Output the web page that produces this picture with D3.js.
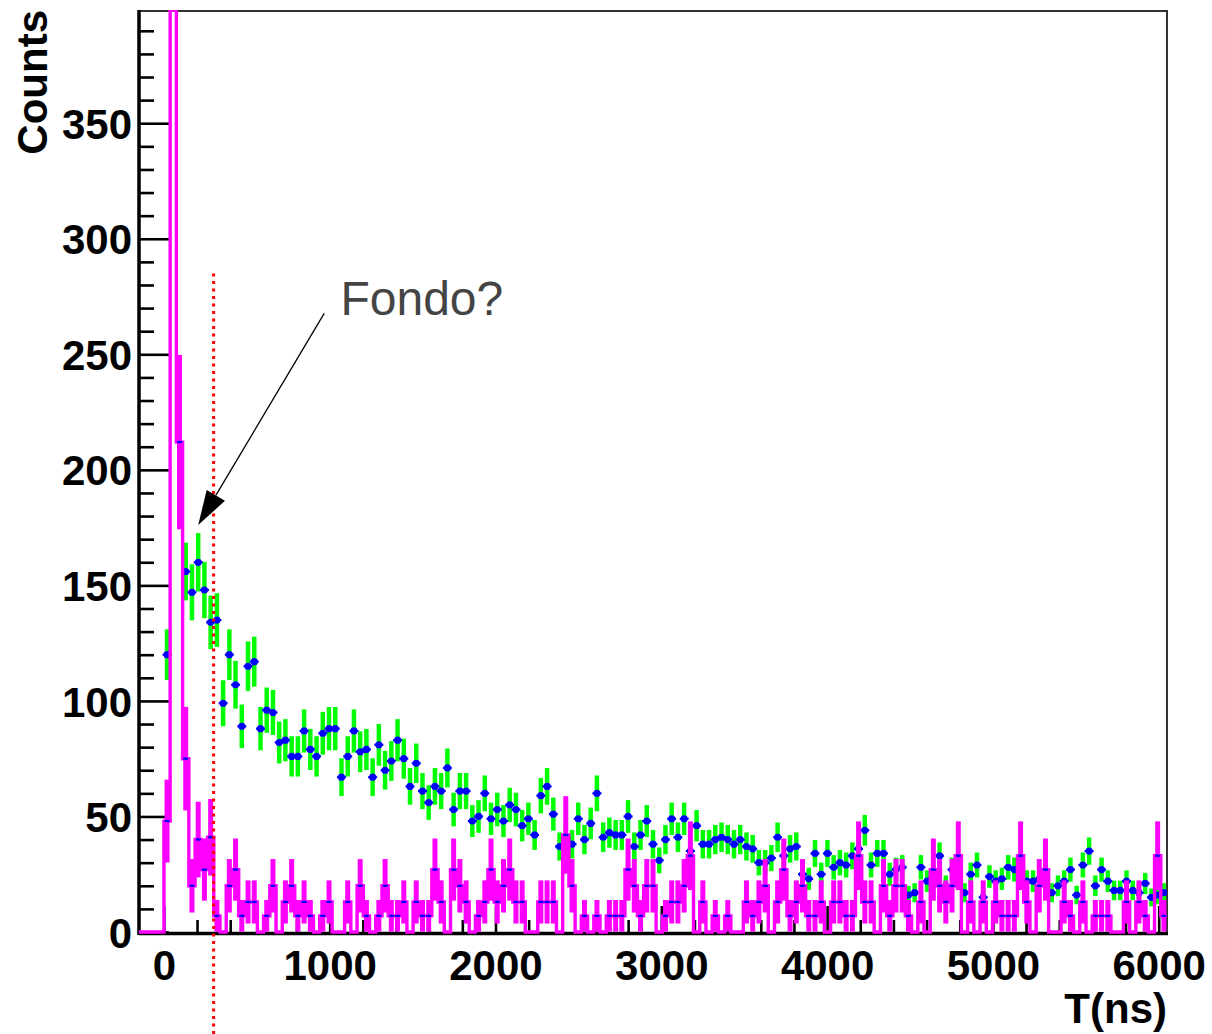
<!DOCTYPE html>
<html><head><meta charset="utf-8">
<script src="https://cdn.jsdelivr.net/npm/d3@7"></script>
<style>html,body{margin:0;padding:0;background:#fff}svg{display:block}</style>
</head><body>
<script>
// ---------------- data ----------------
const xMin = -150, xMax = 6050, nBins = 165;
const yMax = 399;
const xTicks = [0, 1000, 2000, 3000, 4000, 5000, 6000];
const yTicks = [0, 50, 100, 150, 200, 250, 300, 350];
const xTitle = "T(ns)";
const yTitle = "Counts";

// green/blue points: counts per bin, first entry is bin 4 (null = not visible)
const greenStart = 4;
const greenCounts = [
  120, null, null, 156, 147, 160, 148, 134, 135, 99,
  120, 107, 89, 115, 117, 88, 96, 95, 82, 83,
  76, 76, 87, 79, 76, 86, 88, 88, 67, 76,
  87, 78, 79, 67, 81, 70, 74, 83, 75, 63,
  73, 61, 56, 63, 61, 71, 53, 61, 61, 48,
  50, 60, 49, 53, 48, 55, 53, 46, 49, 42,
  59, 63, 51, 37, 40, 38, 49, 40, 47, 60,
  41, 43, 42, 42, 50, 37, 42, 48, 38, 31,
  40, 49, 41, 49, 35, 46, 38, 38, 40, 41,
  40, 38, 40, 37, 36, 30, 30, 32, 41, 33,
  36, 37, 25, 23, 34, 25, 34, 28, 30, 29,
  33, 36, 44, 29, 34, 34, 25, 27, 28, 16,
  17, 28, 22, 24, 33, 20, 27, 25, 17, 25,
  29, 15, 24, 22, 23, 28, 27, 27, 22, 22,
  23, 24, 17, 20, 22, 27, 16, 29, 35, 20,
  27, 22, 18, 18, 22, 18, 17, 21, 15, 16,
  17
];

// magenta histogram: weighted content per bin (bins 0..164)
const magentaWeight = 6.7;
const magentaValues = [
  0, 0, 0, 0, 48, 520, 212, 75, 20, 40,
  27, 41, 7, 0, 20, 27, 7, 13, 13, 0,
  7, 20, 0, 13, 20, 7, 13, 7, 0, 7,
  13, 0, 0, 13, 0, 20, 7, 0, 7, 20,
  7, 7, 13, 0, 13, 7, 7, 27, 13, 0,
  27, 20, 13, 0, 7, 13, 27, 13, 20, 27,
  13, 13, 0, 0, 13, 13, 13, 0, 42, 20,
  0, 7, 0, 7, 0, 7, 7, 7, 27, 20,
  7, 20, 20, 0, 7, 13, 13, 20, 33, 0,
  13, 0, 7, 0, 7, 0, 0, 13, 7, 13,
  20, 0, 13, 27, 7, 13, 20, 7, 7, 13,
  0, 13, 13, 7, 7, 33, 13, 13, 0, 20,
  7, 20, 20, 7, 0, 13, 0, 27, 20, 13,
  20, 33, 0, 13, 0, 13, 0, 13, 7, 7,
  7, 33, 13, 0, 20, 27, 0, 0, 13, 7,
  0, 13, 0, 7, 7, 7, 0, 0, 13, 0,
  13, 7, 0, 33, 7
];

// annotations (data coordinates)
const cutT = 300, cutFrom = 285, cutTo = -45;
const noteText = "Fondo?";
const notePos = [1065, 267];
const arrowFrom = [967, 267.7];
const arrowTo = [207, 176.1];

// ---------------- drawing ----------------
const W = 1212, H = 1034;
const L = 139, R = 1167, T = 10, B = 932;
const FONT = "'Liberation Sans', Arial, Helvetica, sans-serif";
const binWidth = (xMax - xMin) / nBins;
const binLow = k => xMin + k * binWidth;
const binCenter = k => xMin + (k + 0.5) * binWidth;

const x = d3.scaleLinear().domain([xMin, xMax]).range([L, R]);
const y = d3.scaleLinear().domain([0, yMax]).range([B, T]);

const svg = d3.select("body").append("svg").attr("width", W).attr("height", H);
svg.append("rect").attr("width", W).attr("height", H).attr("fill", "#fff");
svg.append("defs").append("clipPath").attr("id", "clip")
  .append("rect").attr("x", L).attr("y", T).attr("width", R - L).attr("height", B - T + 2);

// frame
svg.append("rect").attr("x", L).attr("y", T + 1).attr("width", R - L).attr("height", B - T)
  .attr("fill", "none").attr("stroke", "#333").attr("stroke-width", 2);

// axes lines
svg.append("line").attr("x1", L).attr("x2", L).attr("y1", T).attr("y2", B + 3)
  .attr("stroke", "#000").attr("stroke-width", 3.5);
svg.append("line").attr("x1", L).attr("x2", R + 1).attr("y1", B + 1.5).attr("y2", B + 1.5)
  .attr("stroke", "#000").attr("stroke-width", 3.5);

// y axis (ticks inside)
const yMinor = d3.range(10, yMax, 10).filter(v => v % 50 !== 0);
const yMinorAxis = svg.append("g").attr("transform", `translate(${L},0)`)
  .call(d3.axisLeft(y).tickValues(yMinor).tickSize(-15).tickSizeOuter(0).tickFormat(""));
const yAxis = svg.append("g").attr("transform", `translate(${L},0)`)
  .call(d3.axisLeft(y).tickValues(yTicks).tickSize(-30).tickSizeOuter(0).tickPadding(7)
    .tickFormat(d3.format("d")));
[yMinorAxis, yAxis].forEach(g => {
  g.select(".domain").remove();
  g.selectAll("line").attr("stroke", "#000").attr("stroke-width", 2.6);
});
yAxis.selectAll("text").attr("font-family", FONT).attr("font-weight", "bold")
  .attr("font-size", 42).attr("fill", "#000").attr("dy", "0.36em");

// x axis (ticks inside)
const xMinor = d3.range(200, xMax, 200).filter(v => v % 1000 !== 0);
const xMinorAxis = svg.append("g").attr("transform", `translate(0,${B + 1})`)
  .call(d3.axisBottom(x).tickValues(xMinor).tickSize(-13).tickSizeOuter(0).tickFormat(""));
const xAxis = svg.append("g").attr("transform", `translate(0,${B + 1})`)
  .call(d3.axisBottom(x).tickValues(xTicks).tickSize(-27).tickSizeOuter(0).tickPadding(17)
    .tickFormat(d3.format("d")));
[xMinorAxis, xAxis].forEach(g => {
  g.select(".domain").remove();
  g.selectAll("line").attr("stroke", "#000").attr("stroke-width", 2.6);
});
xAxis.selectAll("text").attr("font-family", FONT).attr("font-weight", "bold")
  .attr("font-size", 42).attr("fill", "#000");

const plot = svg.append("g").attr("clip-path", "url(#clip)");

// green error bars + blue markers
const greenData = greenCounts.map((v, i) => ({k: i + greenStart, v}))
  .filter(d => d.v !== null);
plot.append("g").selectAll("line").data(greenData).join("line")
  .attr("x1", d => x(binCenter(d.k))).attr("x2", d => x(binCenter(d.k)))
  .attr("y1", d => y(d.v - Math.sqrt(d.v))).attr("y2", d => y(d.v + Math.sqrt(d.v)))
  .attr("stroke", "#00ff00").attr("stroke-width", 4.5);
const gm = plot.append("g");
gm.selectAll("line").data(greenData).join("line")
  .attr("x1", d => x(binCenter(d.k)) - 4.5).attr("x2", d => x(binCenter(d.k)) + 4.5)
  .attr("y1", d => y(d.v)).attr("y2", d => y(d.v))
  .attr("stroke", "#0000ff").attr("stroke-width", 2.2);
gm.selectAll("circle").data(greenData).join("circle")
  .attr("cx", d => x(binCenter(d.k))).attr("cy", d => y(d.v)).attr("r", 3.6)
  .attr("fill", "#0000ff");

// magenta histogram outline
const magData = magentaValues.map((v, k) => ({k, v}));
const stepPts = magData.map(d => [x(binLow(d.k)), y(Math.min(d.v, yMax))]);
stepPts.push([x(xMax), y(Math.min(magentaValues[nBins - 1], yMax))]);
plot.append("path")
  .attr("d", d3.line().curve(d3.curveStepAfter)(stepPts))
  .attr("fill", "none").attr("stroke", "#ff00ff").attr("stroke-width", 3.4)
  .attr("stroke-linejoin", "miter");

// magenta error bars
const magNZ = magData.filter(d => d.v > 0);
const mErr = v => Math.sqrt(v * magentaWeight);
plot.append("g").selectAll("line").data(magNZ).join("line")
  .attr("x1", d => x(binCenter(d.k))).attr("x2", d => x(binCenter(d.k)))
  .attr("y1", d => y(Math.max(0, d.v - mErr(d.v)))).attr("y2", d => y(d.v + mErr(d.v)))
  .attr("stroke", "#ff00ff").attr("stroke-width", 5);

// blue marks on magenta
const mm = plot.append("g");
mm.selectAll("line").data(magNZ).join("line")
  .attr("x1", d => x(binLow(d.k)) + 0.4).attr("x2", d => x(binLow(d.k) + binWidth) - 0.4)
  .attr("y1", d => y(d.v)).attr("y2", d => y(d.v))
  .attr("stroke", "#0000ff").attr("stroke-width", 1.8);
mm.selectAll("circle").data(magNZ).join("circle")
  .attr("cx", d => x(binCenter(d.k))).attr("cy", d => y(d.v)).attr("r", 1.4)
  .attr("fill", "#0000ff");

// axis titles
svg.append("text").attr("x", R).attr("y", 1023).attr("text-anchor", "end")
  .attr("font-family", FONT).attr("font-weight", "bold").attr("font-size", 42)
  .attr("fill", "#000").text(xTitle);
svg.append("text").attr("transform", `translate(47,${T}) rotate(-90)`)
  .attr("text-anchor", "end")
  .attr("font-family", FONT).attr("font-weight", "bold").attr("font-size", 42)
  .attr("fill", "#000").text(yTitle);

// red dotted cut line
svg.append("line").attr("x1", x(cutT)).attr("x2", x(cutT))
  .attr("y1", y(cutFrom)).attr("y2", y(cutTo))
  .attr("stroke", "#ff0000").attr("stroke-width", 3).attr("stroke-dasharray", "3,4.5");

// annotation text + arrow
svg.append("text").attr("x", x(notePos[0])).attr("y", y(notePos[1]))
  .attr("font-family", FONT).attr("font-size", 48).attr("fill", "#444").text(noteText);
const p0 = [x(arrowFrom[0]), y(arrowFrom[1])];
const p1 = [x(arrowTo[0]), y(arrowTo[1])];
const dx = p1[0] - p0[0], dy = p1[1] - p0[1];
const len = Math.hypot(dx, dy);
const ux = dx / len, uy = dy / len;
const headLen = 34.5, headHalf = 10.6;
const bx = p1[0] - headLen * ux, by = p1[1] - headLen * uy;
svg.append("line").attr("x1", p0[0]).attr("y1", p0[1]).attr("x2", bx).attr("y2", by)
  .attr("stroke", "#000").attr("stroke-width", 1.3);
svg.append("path")
  .attr("d", d3.line()([[p1[0], p1[1]], [bx - headHalf * uy, by + headHalf * ux], [bx + headHalf * uy, by - headHalf * ux]]) + "Z")
  .attr("fill", "#000");
</script>
</body></html>
